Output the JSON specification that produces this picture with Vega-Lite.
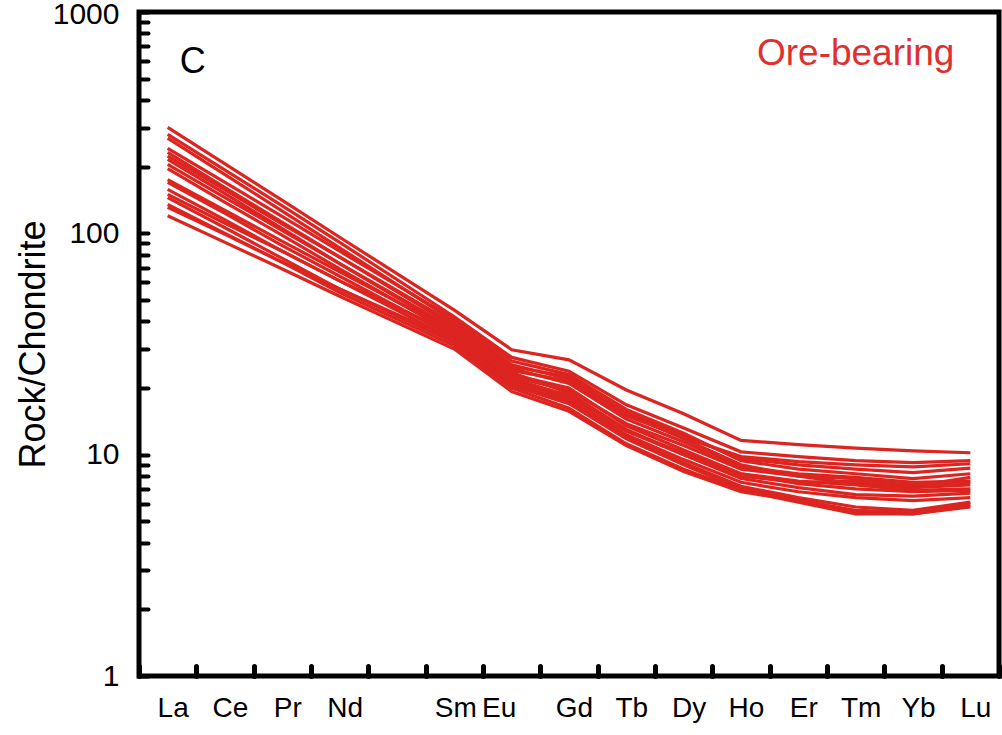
{
  "$schema": "https://vega.github.io/schema/vega-lite/v6.json",
  "width": 860,
  "height": 664,
  "autosize": {"type": "none"},
  "padding": {"left": 139, "top": 12, "right": 3, "bottom": 59},
  "background": "white",
  "config": {
    "font": "Liberation Sans",
    "view": {"stroke": "black", "strokeWidth": 5}
  },
  "datasets": {
    "ree": [
      {"sample": "S1", "La": 301, "Ce": 206, "Pr": 141, "Nd": 96, "Sm": 45, "Eu": 29.8, "Gd": 26.8, "Tb": 19.6, "Dy": 15.3, "Ho": 11.6, "Er": 11.1, "Tm": 10.7, "Yb": 10.4, "Lu": 10.2},
      {"sample": "S2", "La": 280, "Ce": 193, "Pr": 133, "Nd": 91, "Sm": 42, "Eu": 27.5, "Gd": 23.8, "Tb": 16.8, "Dy": 13.2, "Ho": 10.3, "Er": 9.8, "Tm": 9.4, "Yb": 9.2, "Lu": 9.4},
      {"sample": "S3", "La": 269, "Ce": 184, "Pr": 126, "Nd": 86, "Sm": 40, "Eu": 25.5, "Gd": 22.0, "Tb": 15.5, "Dy": 12.2, "Ho": 9.6, "Er": 9.0, "Tm": 8.6, "Yb": 8.3, "Lu": 8.7},
      {"sample": "S4", "La": 242, "Ce": 170, "Pr": 119, "Nd": 83, "Sm": 41, "Eu": 26.5, "Gd": 23.0, "Tb": 16.0, "Dy": 12.5, "Ho": 9.4, "Er": 8.6, "Tm": 8.2, "Yb": 7.8, "Lu": 8.2},
      {"sample": "S5", "La": 232, "Ce": 161, "Pr": 112, "Nd": 78, "Sm": 38, "Eu": 24.5, "Gd": 21.0, "Tb": 14.5, "Dy": 11.4, "Ho": 8.8, "Er": 8.2, "Tm": 7.9, "Yb": 7.5, "Lu": 7.6},
      {"sample": "S6", "La": 223, "Ce": 157, "Pr": 110, "Nd": 78, "Sm": 39, "Eu": 25.0, "Gd": 22.5, "Tb": 15.3, "Dy": 11.8, "Ho": 9.0, "Er": 8.0, "Tm": 7.4, "Yb": 7.1, "Lu": 7.3},
      {"sample": "S7", "La": 216, "Ce": 151, "Pr": 105, "Nd": 73, "Sm": 36, "Eu": 23.0, "Gd": 20.0, "Tb": 13.5, "Dy": 10.5, "Ho": 8.2, "Er": 7.6, "Tm": 7.3, "Yb": 6.9, "Lu": 7.0},
      {"sample": "S8", "La": 205, "Ce": 145, "Pr": 103, "Nd": 73, "Sm": 37, "Eu": 23.5, "Gd": 19.0, "Tb": 13.0, "Dy": 10.0, "Ho": 7.8, "Er": 7.1, "Tm": 6.6, "Yb": 6.5, "Lu": 6.7},
      {"sample": "S9", "La": 196, "Ce": 138, "Pr": 98, "Nd": 69, "Sm": 35, "Eu": 22.0, "Gd": 18.5, "Tb": 12.8, "Dy": 10.2, "Ho": 8.2, "Er": 7.4, "Tm": 7.0, "Yb": 6.8, "Lu": 6.9},
      {"sample": "S10", "La": 175, "Ce": 127, "Pr": 92, "Nd": 67, "Sm": 36, "Eu": 24.0, "Gd": 21.5, "Tb": 15.0, "Dy": 12.0, "Ho": 9.8, "Er": 9.3, "Tm": 9.0, "Yb": 8.8, "Lu": 9.1},
      {"sample": "S11", "La": 170, "Ce": 123, "Pr": 88, "Nd": 64, "Sm": 34, "Eu": 21.5, "Gd": 18.0, "Tb": 12.3, "Dy": 9.5, "Ho": 7.5, "Er": 6.8, "Tm": 6.4, "Yb": 6.2, "Lu": 6.4},
      {"sample": "S12", "La": 158, "Ce": 115, "Pr": 83, "Nd": 61, "Sm": 33, "Eu": 21.0, "Gd": 17.5, "Tb": 12.0, "Dy": 9.2, "Ho": 7.2, "Er": 6.4, "Tm": 5.8, "Yb": 5.6, "Lu": 6.1},
      {"sample": "S13", "La": 150, "Ce": 111, "Pr": 83, "Nd": 61, "Sm": 35, "Eu": 22.5, "Gd": 19.5, "Tb": 13.8, "Dy": 11.0, "Ho": 8.6, "Er": 8.0, "Tm": 7.8, "Yb": 7.2, "Lu": 7.9},
      {"sample": "S14", "La": 145, "Ce": 106, "Pr": 77, "Nd": 56, "Sm": 32, "Eu": 20.5, "Gd": 17.0, "Tb": 11.8, "Dy": 9.0, "Ho": 7.0, "Er": 6.3, "Tm": 5.5, "Yb": 5.4, "Lu": 5.8},
      {"sample": "S15", "La": 135, "Ce": 100, "Pr": 74, "Nd": 54, "Sm": 31, "Eu": 20.0, "Gd": 16.2, "Tb": 11.2, "Dy": 8.6, "Ho": 6.9, "Er": 6.1, "Tm": 5.4, "Yb": 5.4, "Lu": 5.9},
      {"sample": "S16", "La": 131, "Ce": 99, "Pr": 74, "Nd": 56, "Sm": 33, "Eu": 21.0, "Gd": 18.0, "Tb": 12.8, "Dy": 10.0, "Ho": 8.0, "Er": 7.5, "Tm": 7.6, "Yb": 7.3, "Lu": 7.5},
      {"sample": "S17", "La": 120, "Ce": 91, "Pr": 69, "Nd": 52, "Sm": 30, "Eu": 19.3, "Gd": 15.7, "Tb": 11.0, "Dy": 8.4, "Ho": 6.8, "Er": 6.2, "Tm": 5.6, "Yb": 5.5, "Lu": 6.0}
    ]
  },
  "layer": [
    {
      "data": {"name": "ree"},
      "transform": [
        {"fold": ["La", "Ce", "Pr", "Nd", "Sm", "Eu", "Gd", "Tb", "Dy", "Ho", "Er", "Tm", "Yb", "Lu"], "as": ["element", "value"]}
      ],
      "mark": {"type": "line", "color": "#dc2420", "strokeWidth": 3.2, "clip": true},
      "encoding": {
        "x": {
          "field": "element",
          "type": "ordinal",
          "sort": ["La", "Ce", "Pr", "Nd", "Pm", "Sm", "Eu", "Gd", "Tb", "Dy", "Ho", "Er", "Tm", "Yb", "Lu"],
          "scale": {
            "type": "band",
            "domain": ["La", "Ce", "Pr", "Nd", "Pm", "Sm", "Eu", "Gd", "Tb", "Dy", "Ho", "Er", "Tm", "Yb", "Lu"],
            "paddingInner": 0,
            "paddingOuter": 0
          },
          "axis": {
            "title": null,
            "domain": false,
            "grid": false,
            "tickBand": "extent",
            "tickSize": -10,
            "tickWidth": 5,
            "tickCap": "round",
            "tickColor": "black",
            "labelAngle": 0,
            "labelFontSize": 28,
            "labelColor": "black",
            "labelPadding": 28,
            "labelOverlap": false,
            "labelFlush": false,
            "labelBound": false,
            "labelOffset": {"condition": [{"test": "datum.value == 'Eu'", "value": -13}, {"test": "datum.value == 'Sm'", "value": 1}], "value": 5},
            "labelExpr": "datum.value == 'Pm' ? '' : datum.label"
          }
        },
        "y": {
          "field": "value",
          "type": "quantitative",
          "scale": {"type": "log", "domain": [1, 1000], "nice": false},
          "axis": {
            "title": "Rock/Chondrite",
            "titleFontSize": 36,
            "titleFontWeight": "normal",
            "titleColor": "black",
            "titlePadding": 0,
            "domain": false,
            "grid": false,
            "values": [1, 2, 3, 4, 5, 6, 7, 8, 9, 10, 20, 30, 40, 50, 60, 70, 80, 90, 100, 200, 300, 400, 500, 600, 700, 800, 900, 1000],
            "tickSize": -9,
            "tickWidth": 4,
            "tickCap": "round",
            "tickColor": "black",
            "labelFontSize": 30,
            "labelColor": "black",
            "labelPadding": 29,
            "labelOverlap": false,
            "labelFlush": false,
            "labelBound": false,
            "labelOffset": {"condition": {"test": "datum.value == 1000", "value": 2}, "value": 0},
            "labelExpr": "indexof([1, 10, 100, 1000], datum.value) >= 0 ? format(datum.value, 'd') : ''"
          }
        },
        "detail": {"field": "sample", "type": "nominal"}
      }
    },
    {
      "data": {"values": [{}]},
      "mark": {"type": "text", "text": "C", "fontSize": 36, "color": "black", "align": "center", "baseline": "middle", "dx": 25},
      "encoding": {"x": {"datum": "La"}, "y": {"datum": 595}}
    },
    {
      "data": {"values": [{}]},
      "mark": {"type": "text", "text": "Ore-bearing", "fontSize": 37, "color": "#e0302e", "align": "center", "baseline": "middle"},
      "encoding": {"x": {"datum": "Tm"}, "y": {"datum": 643}}
    }
  ]
}
